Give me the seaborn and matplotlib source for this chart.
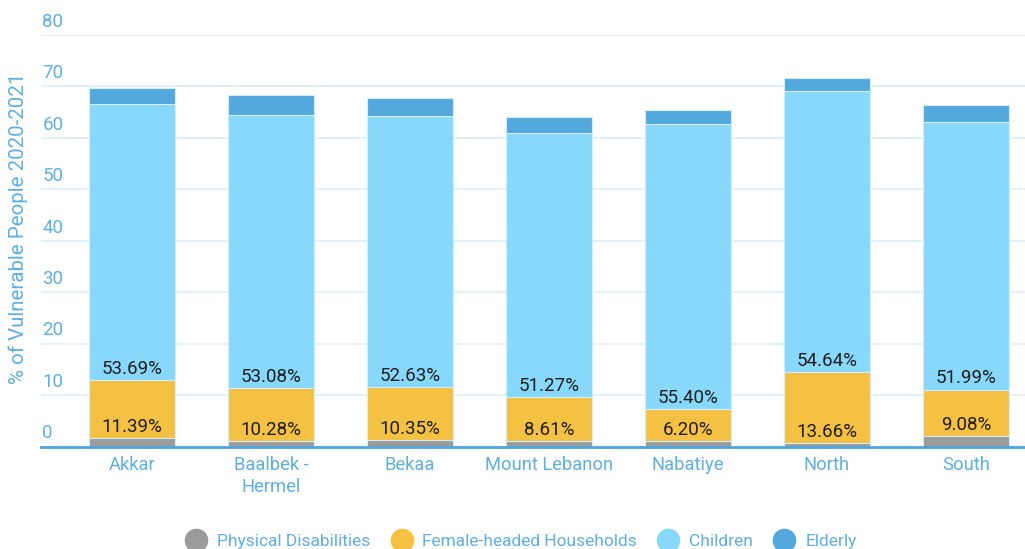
import matplotlib
matplotlib.use("Agg")
import matplotlib.pyplot as plt
from matplotlib.lines import Line2D
import seaborn as sns
import numpy as np
import pandas as pd

# data
regions = ["Akkar", "Baalbek -\nHermel", "Bekaa", "Mount Lebanon", "Nabatiye", "North", "South"]
physical_disabilities = [1.6, 1.1, 1.25, 1.0, 1.1, 0.75, 2.0]
female_headed = [11.39, 10.28, 10.35, 8.61, 6.20, 13.66, 9.08]
children = [53.69, 53.08, 52.63, 51.27, 55.40, 54.64, 51.99]
elderly = [3.0, 3.8, 3.45, 3.1, 2.7, 2.6, 3.4]

series_names = ["Physical Disabilities", "Female-headed Households", "Children", "Elderly"]
series_colors = ["#9b9b9b", "#f5c143", "#88d8fc", "#53a9dd"]
y_ticks = [0, 10, 20, 30, 40, 50, 60, 70, 80]

text_blue = "#5eafe2"

sns.set_style("white")
plt.rcParams["font.family"] = ["Roboto", "DejaVu Sans"]

df = pd.DataFrame({
    "region": regions,
    "pd": physical_disabilities,
    "fhh": female_headed,
    "children": children,
    "elderly": elderly,
})
layers = np.cumsum(df[["pd", "fhh", "children", "elderly"]].to_numpy(), axis=1)
for k, col in enumerate(["c_pd", "c_fhh", "c_children", "c_elderly"]):
    df[col] = layers[:, k]

fig = plt.figure(figsize=(10.25, 5.49), dpi=100)
ax = fig.add_axes([0.04, 0.1867, 0.96, 0.7495])

# draw stacked bars top layer first so lower layers overlay
for col, color in zip(["c_elderly", "c_children", "c_fhh", "c_pd"], series_colors[::-1]):
    sns.barplot(data=df, x="region", y=col, color=color, saturation=1,
                width=0.62, errorbar=None, edgecolor="#d4effc", linewidth=0.8,
                ax=ax, zorder=3)

# value labels at the base of the FHH and Children segments
for i, row in df.iterrows():
    ax.annotate(f"{row['fhh']:.2f}%", xy=(i, row["c_pd"]), xytext=(0, 8),
                textcoords="offset points", ha="center", va="center",
                fontsize=13.5, color="#1e1e1e", zorder=5)
    ax.annotate(f"{row['children']:.2f}%", xy=(i, row["c_fhh"]), xytext=(0, 8),
                textcoords="offset points", ha="center", va="center",
                fontsize=13.5, color="#1e1e1e", zorder=5)

ax.set_ylim(0, 80)
ax.set_xlim(-0.655, 6.424)
ax.set_yticks(y_ticks)
ax.set_yticklabels([])
ax.tick_params(axis="y", length=0)
for v in y_ticks:
    ax.annotate(str(v), xy=(0, v), xycoords=ax.get_yaxis_transform(),
                xytext=(1, 3), textcoords="offset points", ha="left", va="bottom",
                fontsize=13.5, color=text_blue)

ax.grid(axis="y", color="#e5f1fa", linewidth=1.5, zorder=0)
ax.set_axisbelow(True)
for side in ["top", "right", "left"]:
    ax.spines[side].set_visible(False)
ax.spines["bottom"].set_color("#4da6df")
ax.spines["bottom"].set_linewidth(2)
ax.spines["bottom"].set_zorder(6)

ax.tick_params(axis="x", length=0, pad=6.5, labelsize=13.2, labelcolor=text_blue)
for lbl in ax.get_xticklabels():
    lbl.set_linespacing(1.3)
ax.set_xlabel("")
ax.set_ylabel("")

fig.text(18 / 1025, 0.585, "% of Vulnerable People 2020-2021", rotation=90,
         ha="center", va="center", fontsize=14.8, color=text_blue)

handles = [Line2D([], [], linestyle="none", marker="o", markersize=16,
                  markerfacecolor=c, markeredgecolor=c) for c in series_colors]
leg = fig.legend(handles, series_names, loc="center", ncol=4,
                 bbox_to_anchor=(522 / 1025, 8 / 549), frameon=False,
                 fontsize=12.5, handlelength=1.0, handletextpad=0.7,
                 columnspacing=1.3, labelcolor=text_blue)

fig.savefig("out.png", dpi=100)
